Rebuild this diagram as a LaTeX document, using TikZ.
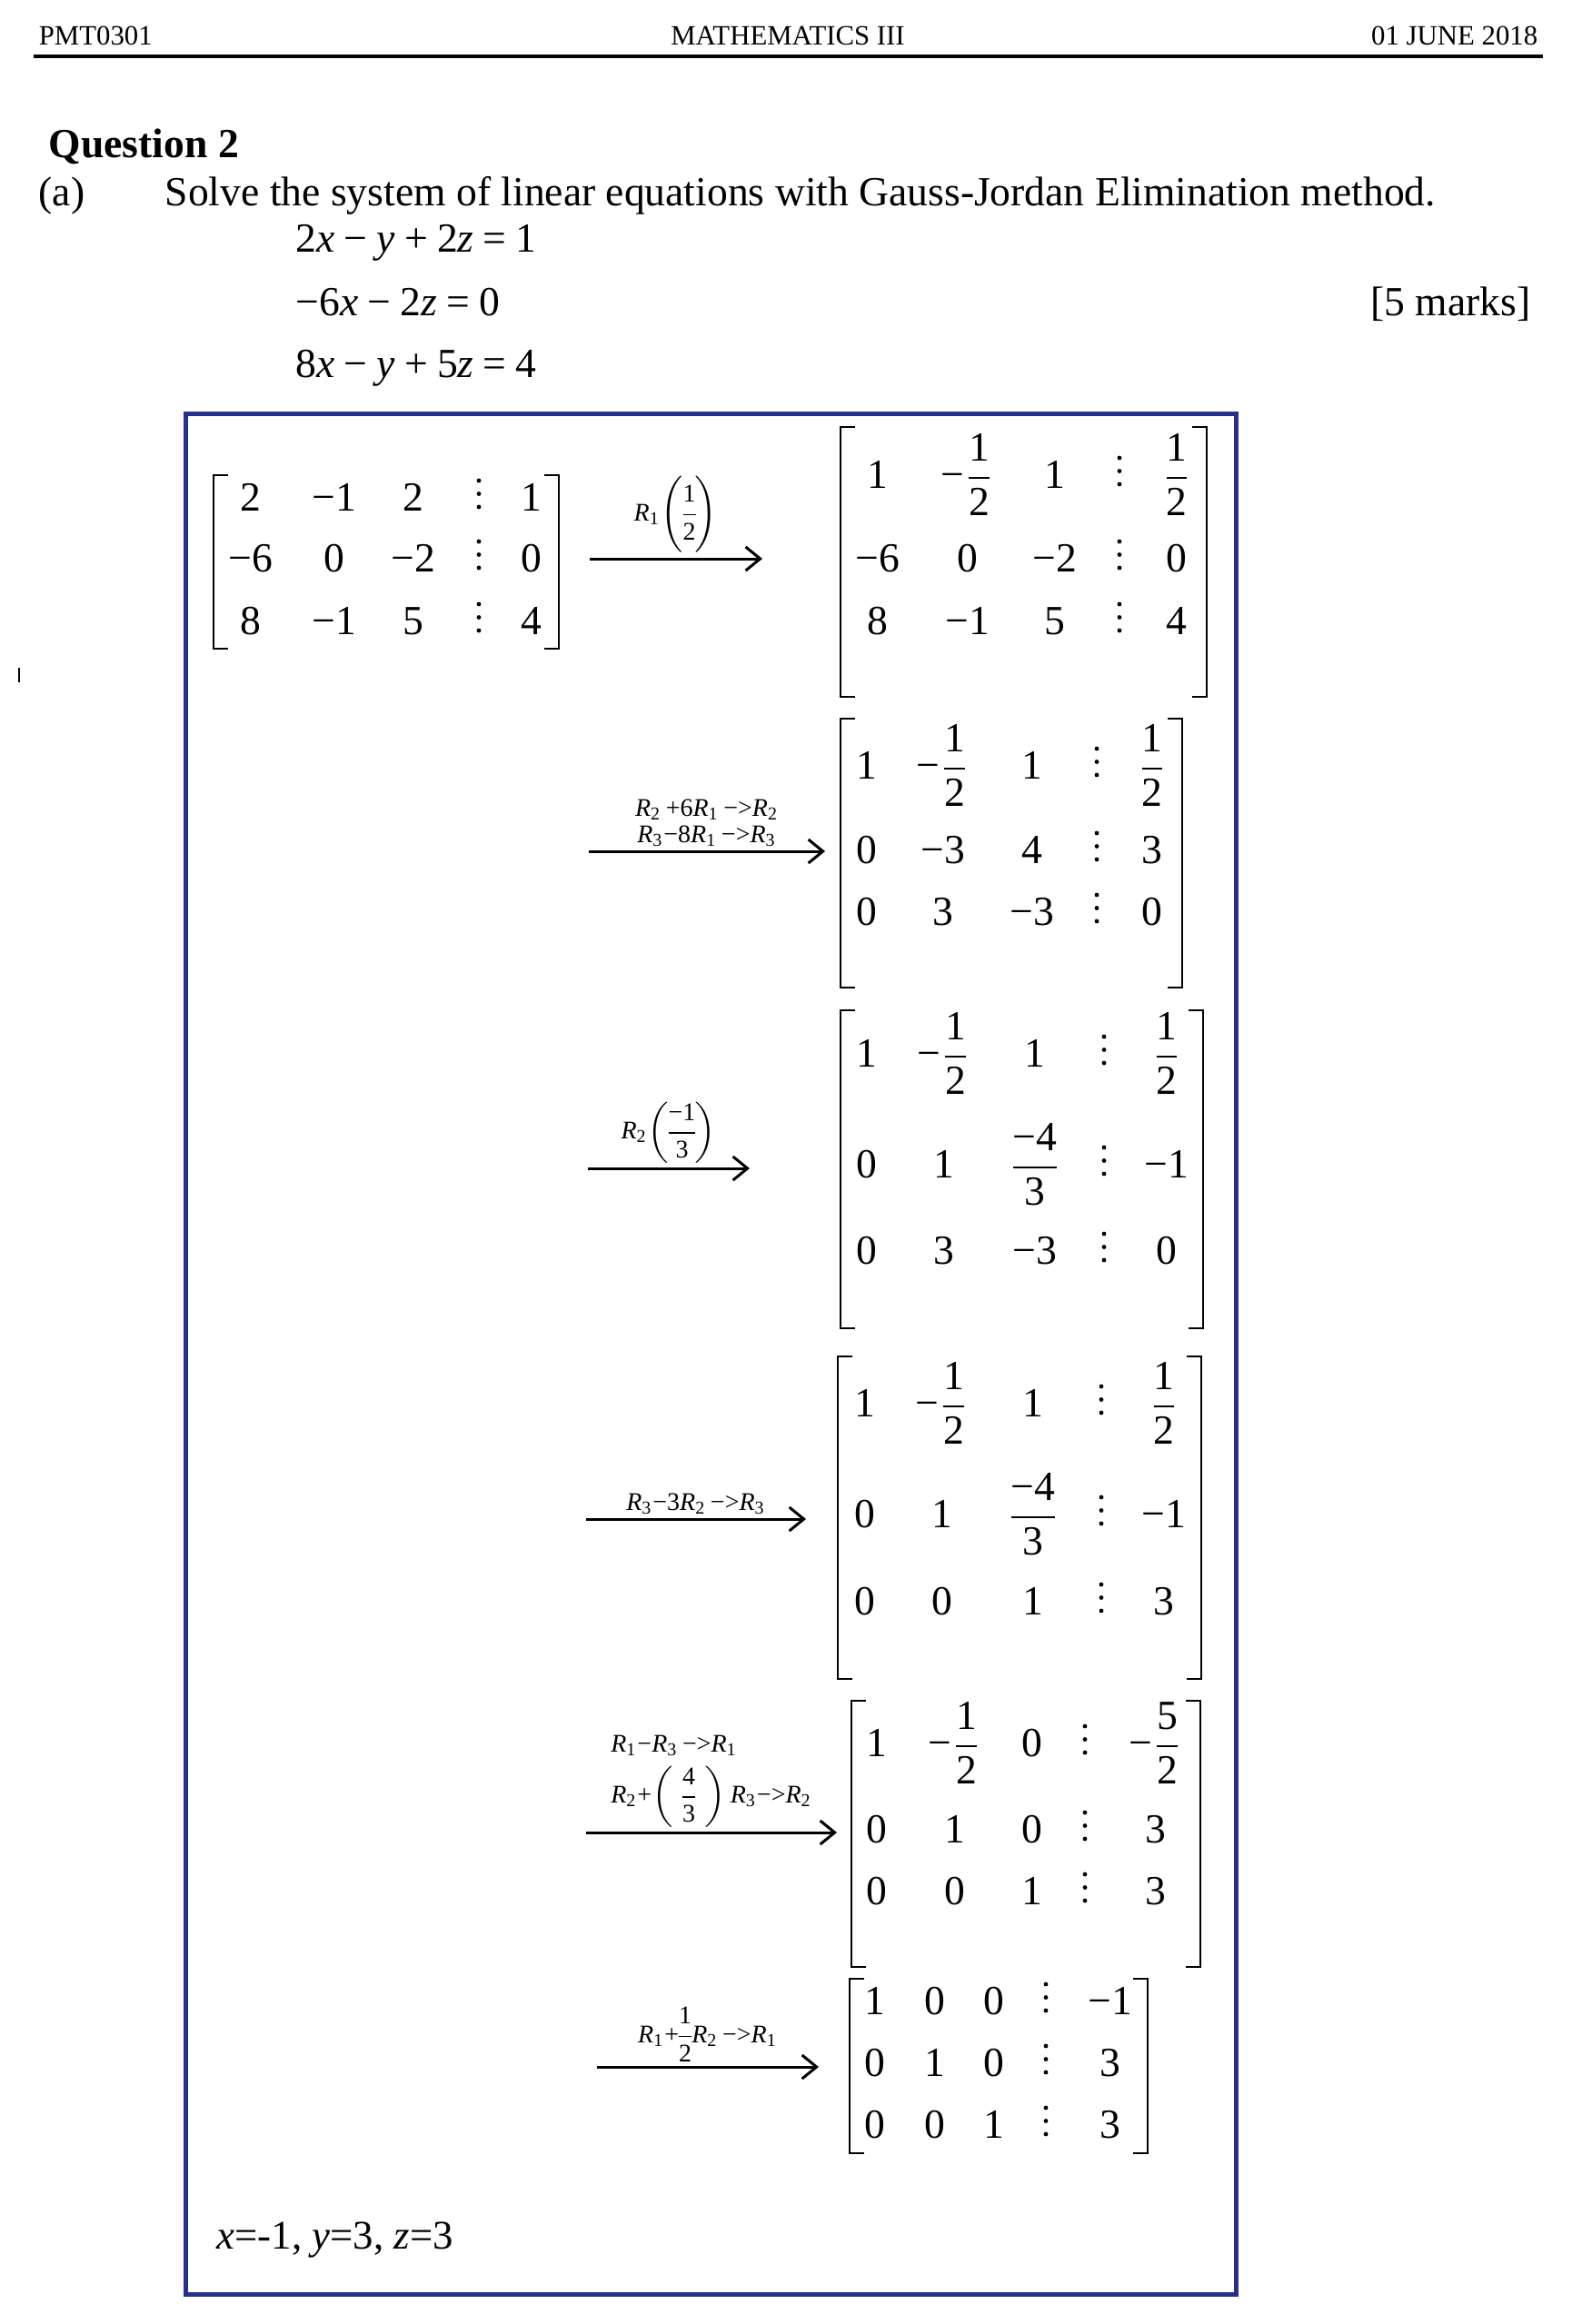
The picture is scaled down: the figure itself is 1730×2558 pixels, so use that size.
\documentclass[tikz,border=0pt]{standalone}
\usepackage{amsmath}
\usepackage{fontspec}
\setmainfont{Liberation Serif}
\usetikzlibrary{arrows.meta}
\definecolor{boxblue}{RGB}{41,48,140}
\newcommand{\fr}[2]{\displaystyle\frac{\text{#1}}{\text{#2}}}
\newcommand{\Rr}[1]{\textit{R}\textsubscript{#1}}

\begin{document}
\begin{tikzpicture}[x=0.25pt, y=-0.25pt,
    txt/.style={inner sep=0pt, font=\fontsize{11.4}{13.7}\selectfont},
    ent/.style={txt, anchor=base},
    hdr/.style={inner sep=0pt, font=\fontsize{7.7}{9}\selectfont, anchor=base},
    lbl/.style={inner sep=0pt, font=\fontsize{7}{7.25}\selectfont, align=center},
    brk/.style={line width=0.65pt},
    stepar/.style={-{Straight Barb[length=4pt,width=6.5pt]}, line width=0.75pt}]
    \useasboundingbox (0,0) rectangle (1730,2558);

    % Header line
    \node[hdr, anchor=base west] (code) at (42,50) {PMT0301};
    \node[hdr] (subj) at (867,50) {MATHEMATICS III};
    \node[hdr, anchor=base east] (date) at (1693,50) {01 JUNE 2018};
    \draw[line width=1pt] (37,62) -- (1698,62);

    % Question and system
    \node[txt, anchor=base west, font=\fontsize{11.4}{13.7}\selectfont\bfseries] (quest) at (53,174) {Question 2};
    \node[txt, anchor=base west] (part) at (42,226) {(a)};
    \node[txt, anchor=base west] (task) at (181,226) {Solve the system of linear equations with Gauss-Jordan Elimination method.};
    \node[txt, anchor=base west] (eq1) at (325,278) {2\textit{x}\:−\:\textit{y}\:+\:2\textit{z}\:=\:1};
    \node[txt, anchor=base west] (eq2) at (325,347) {−6\textit{x}\:−\:2\textit{z}\:=\:0};
    \node[txt, anchor=base west] (eq3) at (325,415) {8\textit{x}\:−\:\textit{y}\:+\:5\textit{z}\:=\:4};
    \node[txt, anchor=base east] (marks) at (1685,347) {[5 marks]};

    % small tick on the margin
    \draw[line width=0.3pt] (21,735) -- (21,751);

    % Answer box
    \draw[boxblue, line width=1.25pt] (204,455) rectangle (1360,2525);

    % Matrix A = augmented matrix
    \draw[brk] (251,523) -- (235,523) -- (235,714) -- (251,714);
    \draw[brk] (599,523) -- (615,523) -- (615,714) -- (599,714);
    \foreach \y/\a/\b/\c/\d [count=\r] in {562/2/−1/2/1, 629/−6/0/−2/0, 698/8/−1/5/4} {
        \node[ent] (a\r1) at (276,\y) {\a};
        \node[ent] (a\r2) at (368,\y) {\b};
        \node[ent] (a\r3) at (455,\y) {\c};
        \foreach \k in {4,18.5,33} \fill (527,\y-\k) circle (0.6pt);
        \node[ent] (a\r5) at (585,\y) {\d};
    }

    % Step 1: R1(1/2)
    \coordinate (s1) at (649,615);
    \coordinate (e1) at (839,615);
    \draw[stepar] (s1) -- (e1) node[lbl, midway, above=1pt] (l1) {\Rr{1}$\left(\rule[-9pt]{0pt}{21.6pt}\!\fr{1}{2}\!\right)$};

    % Matrix B
    \draw[brk] (941,470) -- (925,470) -- (925,767) -- (941,767);
    \draw[brk] (1312,470) -- (1328,470) -- (1328,767) -- (1312,767);
    \foreach \y/\a/\b/\c/\d [count=\r] in {537/1/{$\text{−}\fr{1}{2}$}/1/{$\fr{1}{2}$}, 629/−6/0/−2/0, 698/8/−1/5/4} {
        \node[ent] (b\r1) at (966,\y) {\a};
        \node[ent] (b\r2) at (1065,\y) {\b};
        \node[ent] (b\r3) at (1161,\y) {\c};
        \foreach \k in {4,18.5,33} \fill (1232,\y-\k) circle (0.6pt);
        \node[ent] (b\r5) at (1295,\y) {\d};
    }

    % Step 2: clear column 1
    \coordinate (s2) at (648,937);
    \coordinate (e2) at (908,937);
    \draw[stepar] (s2) -- (e2) node[lbl, midway, above=1pt] (l2) {\Rr{2}\,+6\Rr{1}\,−>\Rr{2}\\\Rr{3}−8\Rr{1}\,−>\Rr{3}};

    % Matrix C
    \draw[brk] (941,791) -- (925,791) -- (925,1087) -- (941,1087);
    \draw[brk] (1285,791) -- (1301,791) -- (1301,1087) -- (1285,1087);
    \foreach \y/\a/\b/\c/\d [count=\r] in {857/1/{$\text{−}\fr{1}{2}$}/1/{$\fr{1}{2}$}, 950/0/−3/4/3, 1018/0/3/−3/0} {
        \node[ent] (c\r1) at (954,\y) {\a};
        \node[ent] (c\r2) at (1038,\y) {\b};
        \node[ent] (c\r3) at (1136,\y) {\c};
        \foreach \k in {4,18.5,33} \fill (1207,\y-\k) circle (0.6pt);
        \node[ent] (c\r5) at (1268,\y) {\d};
    }

    % Step 3: R2(-1/3)
    \coordinate (s3) at (647,1286);
    \coordinate (e3) at (825,1286);
    \draw[stepar] (s3) -- (e3) node[lbl, midway, above=1pt] (l3) {\Rr{2}$\left(\!\fr{−1}{3}\!\right)$};

    % Matrix D
    \draw[brk] (941,1112) -- (925,1112) -- (925,1462) -- (941,1462);
    \draw[brk] (1308,1112) -- (1324,1112) -- (1324,1462) -- (1308,1462);
    \foreach \y/\a/\b/\c/\d [count=\r] in {1174/1/{$\text{−}\fr{1}{2}$}/1/{$\fr{1}{2}$}, 1296/0/1/{$\fr{−4}{3}$}/−1, 1391/0/3/−3/0} {
        \node[ent] (d\r1) at (954,\y) {\a};
        \node[ent] (d\r2) at (1039,\y) {\b};
        \node[ent] (d\r3) at (1139,\y) {\c};
        \foreach \k in {4,18.5,33} \fill (1215,\y-\k) circle (0.6pt);
        \node[ent] (d\r5) at (1284,\y) {\d};
    }

    % Step 4: clear row 3
    \coordinate (s4) at (645,1672);
    \coordinate (e4) at (887,1672);
    \draw[stepar] (s4) -- (e4) node[lbl, midway, above=1pt] (l4) {\Rr{3}−3\Rr{2}\,−>\Rr{3}};

    % Matrix E
    \draw[brk] (938,1493) -- (922,1493) -- (922,1848) -- (938,1848);
    \draw[brk] (1306,1493) -- (1322,1493) -- (1322,1848) -- (1306,1848);
    \foreach \y/\a/\b/\c/\d [count=\r] in {1559/1/{$\text{−}\fr{1}{2}$}/1/{$\fr{1}{2}$}, 1681/0/1/{$\fr{−4}{3}$}/−1, 1777/0/0/1/3} {
        \node[ent] (e\r1) at (952,\y) {\a};
        \node[ent] (e\r2) at (1037,\y) {\b};
        \node[ent] (e\r3) at (1137,\y) {\c};
        \foreach \k in {4,18.5,33} \fill (1212,\y-\k) circle (0.6pt);
        \node[ent] (e\r5) at (1281,\y) {\d};
    }

    % Step 5: clear column 3
    \coordinate (s5) at (645,2017);
    \coordinate (e5) at (921,2017);
    \draw[stepar] (s5) -- (e5) node[lbl, align=left, midway, above=1pt] (l5) {\Rr{1}−\Rr{3}\,−>\Rr{1}\\[2pt]\Rr{2}+$\left(\,\fr{4}{3}\,\right)$\,\Rr{3}−>\Rr{2}};

    % Matrix F
    \draw[brk] (953,1872) -- (937,1872) -- (937,2165) -- (953,2165);
    \draw[brk] (1305,1872) -- (1321,1872) -- (1321,2165) -- (1305,2165);
    \foreach \y/\a/\b/\c/\d [count=\r] in {1933/1/{$\text{−}\fr{1}{2}$}/0/{$\text{−}\fr{5}{2}$}, 2028/0/1/0/3, 2096/0/0/1/3} {
        \node[ent] (f\r1) at (965,\y) {\a};
        \node[ent] (f\r2) at (1051,\y) {\b};
        \node[ent] (f\r3) at (1136,\y) {\c};
        \foreach \k in {4,18.5,33} \fill (1194,\y-\k) circle (0.6pt);
        \node[ent] (f\r5) at (1272,\y) {\d};
    }

    % Step 6: clear column 2
    \coordinate (s6) at (657,2275);
    \coordinate (e6) at (901,2275);
    \draw[stepar] (s6) -- (e6) node[lbl, midway, above=1pt] (l6) {\Rr{1}+\!$\fr{1}{2}$\!\Rr{2}\,−>\Rr{1}};

    % Matrix G = reduced form
    \draw[brk] (951,2178) -- (935,2178) -- (935,2370) -- (951,2370);
    \draw[brk] (1247,2178) -- (1263,2178) -- (1263,2370) -- (1247,2370);
    \foreach \y/\a/\b/\c/\d [count=\r] in {2217/1/0/0/−1, 2285/0/1/0/3, 2353/0/0/1/3} {
        \node[ent] (g\r1) at (963,\y) {\a};
        \node[ent] (g\r2) at (1029,\y) {\b};
        \node[ent] (g\r3) at (1094,\y) {\c};
        \foreach \k in {4,18.5,33} \fill (1151,\y-\k) circle (0.6pt);
        \node[ent] (g\r5) at (1222,\y) {\d};
    }

    % Solution
    \node[txt, anchor=base west, font=\fontsize{11.2}{13.4}\selectfont] (ans) at (238,2475) {\textit{x}=-1, \textit{y}=3, \textit{z}=3};
\end{tikzpicture}
\end{document}
